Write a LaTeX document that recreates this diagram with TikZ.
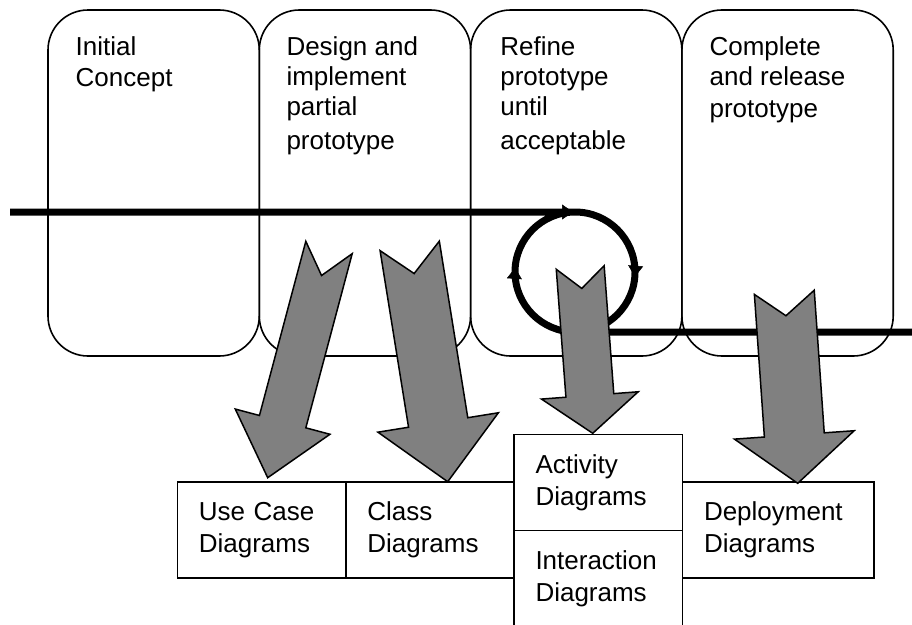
\documentclass[tikz,border=0pt]{standalone}
\usepackage{fontspec}
\setmainfont{Liberation Sans}
\usetikzlibrary{positioning, calc, arrows.meta, decorations.markings}
\tikzset{phase/.style={draw, line width=1.6pt, rounded corners=40pt, minimum width=211.3pt, minimum height=346pt, outer sep=0pt, inner sep=0pt}}
\tikzset{phasetext/.style={anchor=north west, align=left, inner sep=0pt, font=\fontsize{26}{30}\selectfont}}
\tikzset{diagram/.style={draw, line width=1.5pt, align=left, inner xsep=21.5pt, inner ysep=0pt, text width=#1, minimum height=96pt, outer sep=0pt, font=\fontsize{26}{32}\selectfont}}
\tikzset{diagram/.default=125.5pt}
\tikzset{flow/.style={line width=7pt}}
\tikzset{loopmark/.style={postaction={decorate, decoration={markings, mark=at position #1 with {\arrow{Triangle[length=11pt, width=15pt, line width=0.5pt]}}}}}}
\tikzset{blockarrow/.style={draw, line width=1.5pt, fill=gray, line join=miter}}
\newcommand{\bigarrow}[6]{%
  \coordinate (#2base) at ($(#2)!#5!(#1)$);
  \draw[blockarrow] ($(#1)!#3!90:(#2)$) -- ($(#1)!#6!(#2)$) -- ($(#1)!#3!-90:(#2)$)
    -- ($(#2base)!#3!-90:(#2)$) -- ($(#2base)!#4!-90:(#2)$) -- (#2)
    -- ($(#2base)!#4!90:(#2)$) -- ($(#2base)!#3!90:(#2)$) -- cycle;}

\begin{document}
\begin{tikzpicture}[x=1pt, y=-1pt]
\useasboundingbox (0,0) rectangle (912,624);

\node[phase, anchor=north west] (p1) at (48,10) {};
\node[phase, right=0pt of p1] (p2) {};
\node[phase, right=0pt of p2] (p3) {};
\node[phase, right=0pt of p3] (p4) {};

\node[phasetext, below right=26.7pt and 27.5pt of p1.north west] (t1) {Initial\\[1pt]Concept};
\node[phasetext, below right=26.7pt and 27pt of p2.north west] (t2) {Design and\\implement\\partial\\[4pt]prototype};
\node[phasetext, below right=26.7pt and 29.5pt of p3.north west] (t3) {Refine\\prototype\\until\\[4pt]acceptable};
\node[phasetext, below right=26.7pt and 27.5pt of p4.north west] (t4) {Complete\\and release\\[2pt]prototype};

\coordinate (start) at (10,212);
\coordinate (top) at (575,212);
\coordinate (end) at (912,332);
\draw[flow, loopmark=563pt, loopmark=664pt, loopmark=852pt] (start) -- (top) arc[start angle=-90, end angle=450, radius=60] -- (end);

\node[diagram, anchor=north west] (uc) at (177.3,482) {Use Case\\Diagrams};
\node[diagram, right=0pt of uc] (cls) {Class\\Diagrams};
\node[diagram, anchor=north west] (act) at (514,434.3) {Activity\\Diagrams};
\node[diagram, below=0pt of act] (inter) {Interaction\\Diagrams};
\node[diagram=148.3pt, anchor=north west] (dep) at (act.east |- uc.north) {Deployment\\Diagrams};

\coordinate (uc-from) at (329,247.5);
\coordinate (uc-to) at (267.7,477.7);
\coordinate (cls-from) at (409.7,245.9);
\coordinate (cls-to) at (447.7,481.7);
\coordinate (act-from) at (580.2,267.5);
\coordinate (act-to) at (592.7,433.3);
\coordinate (dep-from) at (784.3,292.3);
\coordinate (dep-to) at (797.7,483.3);

\bigarrow{uc-from}{uc-to}{24pt}{49pt}{58pt}{29pt}
\bigarrow{cls-from}{cls-to}{30pt}{61pt}{60pt}{28pt}
\bigarrow{act-from}{act-to}{24pt}{48.5pt}{38pt}{21pt}
\bigarrow{dep-from}{dep-to}{30pt}{60pt}{48.5pt}{23.5pt}
\end{tikzpicture}
\end{document}
